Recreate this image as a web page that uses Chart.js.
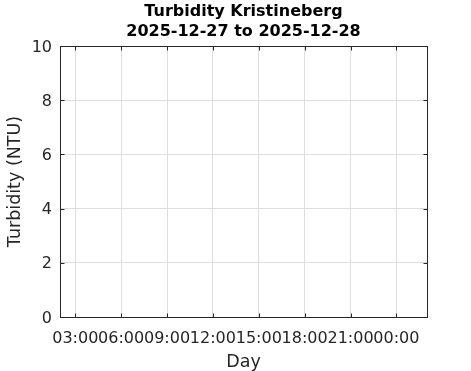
<!DOCTYPE html>
<html>
<head>
<meta charset="utf-8">
<script src="https://cdn.jsdelivr.net/npm/chart.js@4/dist/chart.umd.min.js"></script>
<style>
  html, body { margin: 0; padding: 0; background: #fff; }
  #turbidity_chart { display: block; }
</style>
</head>
<body>
<canvas id="turbidity_chart" width="471" height="371"></canvas>
<script>
// x is hours since midnight of 2025-12-27 (24 = midnight of the 28th)
var tickHours = [3, 6, 9, 12, 15, 18, 21, 24];
var tickLabels = ['03:00', '06:00', '09:00', '12:00', '15:00', '18:00', '21:00', '00:00'];
var xRange = [2, 26];
var yTicks = [0, 2, 4, 6, 8, 10];
var yRange = [0, 10];
// no measurements in the period, the plot is empty
var sampleHours = [];
var turbidityValues = [];

var axisColor = '#262626';
var gridColor = '#dedede';
var fontFamily = '"DejaVu Sans", sans-serif';

// matlab style box with inward ticks on all four sides
var boxPlugin = {
    id: 'boxTicks',
    afterDraw: function (chart) {
        var ctx = chart.ctx;
        var area = chart.chartArea;
        var xs = chart.scales.x;
        var ys = chart.scales.y;
        var l = Math.round(area.left) + 0.5;
        var r = Math.round(area.right) + 0.5;
        var t = Math.round(area.top) + 0.5;
        var b = Math.round(area.bottom) + 0.5;
        var len = 4;
        ctx.save();
        ctx.strokeStyle = axisColor;
        ctx.lineWidth = 1;
        ctx.beginPath();
        tickHours.forEach(function (h) {
            var px = Math.round(xs.getPixelForValue(h)) + 0.5;
            ctx.moveTo(px, b);
            ctx.lineTo(px, b - len);
            ctx.moveTo(px, t);
            ctx.lineTo(px, t + len);
        });
        yTicks.forEach(function (v) {
            var py = Math.round(ys.getPixelForValue(v)) + 0.5;
            ctx.moveTo(l, py);
            ctx.lineTo(l + len, py);
            ctx.moveTo(r, py);
            ctx.lineTo(r - len, py);
        });
        ctx.stroke();
        ctx.strokeRect(l, t, r - l, b - t);
        ctx.restore();
    }
};

var points = sampleHours.map(function (h, i) {
    return {x: h, y: turbidityValues[i]};
});

var myChart = new Chart(document.getElementById('turbidity_chart'), {
    type: 'line',
    data: {
        datasets: [{
            label: 'Turbidity',
            data: points,
            borderColor: '#0072bd',
            borderWidth: 1,
            pointRadius: 0,
        }]
    },
    options: {
        responsive: false,
        animation: false,
        layout: {padding: {left: 0, right: 44, top: 0, bottom: 0}},
        plugins: {
            legend: {display: false},
            tooltip: {enabled: false},
            title: {
                display: true,
                fullSize: false,
                text: ['Turbidity Kristineberg', '2025-12-27 to 2025-12-28'],
                color: '#000',
                font: {family: fontFamily, size: 16, weight: 'bold', lineHeight: 1.25},
                padding: {top: 2, bottom: 4},
            },
        },
        scales: {
            x: {
                type: 'linear',
                min: xRange[0],
                max: xRange[1],
                afterBuildTicks: function (scale) {
                    scale.ticks = tickHours.map(function (h) { return {value: h}; });
                },
                afterFit: function (scale) { scale.height = 54; },
                grid: {color: gridColor, drawTicks: false},
                border: {display: false},
                ticks: {
                    autoSkip: false,
                    maxRotation: 0,
                    padding: 12.5,
                    color: axisColor,
                    font: {family: fontFamily, size: 16},
                    callback: function (value) {
                        return tickLabels[tickHours.indexOf(value)];
                    },
                },
                title: {
                    display: true,
                    text: 'Day',
                    color: axisColor,
                    font: {family: fontFamily, size: 17.5, lineHeight: 1},
                    padding: {top: 0, bottom: 0},
                },
            },
            y: {
                min: yRange[0],
                max: yRange[1],
                afterBuildTicks: function (scale) {
                    scale.ticks = yTicks.map(function (v) { return {value: v}; });
                },
                afterFit: function (scale) { scale.width = 60; },
                grid: {color: gridColor, drawTicks: false},
                border: {display: false},
                ticks: {
                    padding: 8,
                    labelOffset: 1.5,
                    color: axisColor,
                    font: {family: fontFamily, size: 16},
                },
                title: {
                    display: true,
                    text: 'Turbidity (NTU)',
                    color: axisColor,
                    font: {family: fontFamily, size: 17.5},
                    padding: {top: 4.5, bottom: 0},
                },
            },
        },
    },
    plugins: [boxPlugin],
});
</script>
</body>
</html>
